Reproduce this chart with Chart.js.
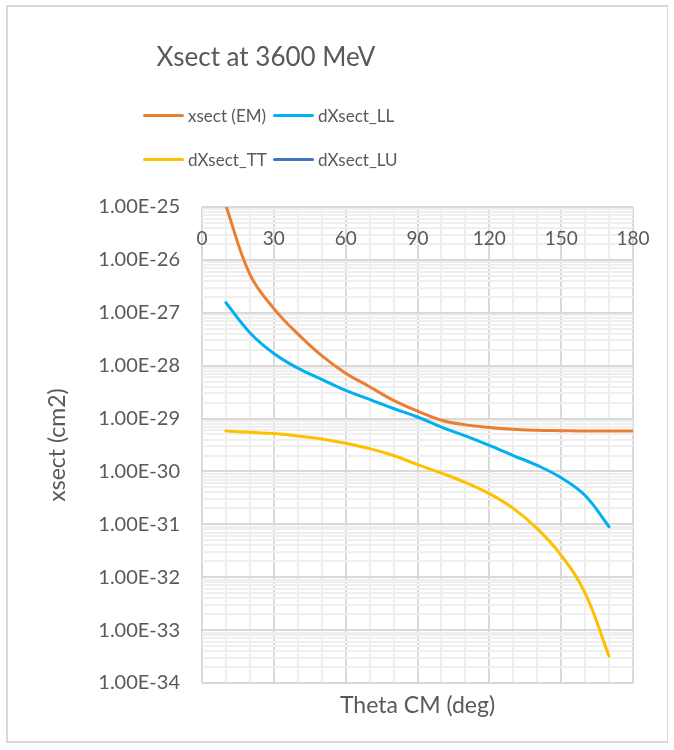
<!DOCTYPE html>
<html>
<head>
<meta charset="utf-8">
<script src="https://cdn.jsdelivr.net/npm/chart.js@4.4.1/dist/chart.umd.min.js"></script>
<style>
  body { margin: 0; background: #fff; font-family: Lato, "Open Sans", sans-serif; }
  #wrap { position: relative; width: 674px; height: 750px; }
  #frame { position: absolute; left: 6px; top: 5px; width: 662px; height: 738px; border: 2px solid #d9d9d9; border-right-width: 1px; box-sizing: border-box; }
  #title { position: absolute; left: 0; width: 532px; top: 40px; text-align: center; font-size: 26px; color: #595959; }
  #legend { position: absolute; left: 143px; top: 103px; display: grid; grid-template-columns: 130px 130px; row-gap: 20px; }
  .item { display: flex; align-items: center; height: 24px; font-size: 17px; color: #595959; white-space: nowrap; }
  .swatch { width: 41px; height: 3px; border-radius: 2px; margin-right: 4px; }
  #chartBox { position: absolute; left: 0; top: 0; width: 674px; height: 750px; }
</style>
</head>
<body>
<div id="wrap">
  <div id="frame"></div>
  <div id="chartBox"><canvas id="xsectChart"></canvas></div>
  <div id="title">Xsect at 3600 MeV</div>
  <div id="legend"></div>
</div>
<script>
// theta CM (deg)
const theta = [10, 20, 30, 40, 50, 60, 70, 80, 90, 100, 110, 120, 130, 140, 150, 160, 170, 180];

// cross sections (cm2)
const xsectEM = [1.05e-25, 5.3e-27, 1.2e-27, 4.0e-28, 1.55e-28, 7.2e-29, 4.0e-29, 2.2e-29, 1.38e-29, 9.3e-30,
  7.6e-30, 6.8e-30, 6.3e-30, 6.0e-30, 5.9e-30, 5.8e-30, 5.8e-30, 5.8e-30];
const dXsectLL = [1.55e-27, 4.2e-28, 1.7e-28, 9.0e-29, 5.5e-29, 3.4e-29, 2.3e-29, 1.55e-29, 1.07e-29, 6.9e-30,
  4.7e-30, 3.1e-30, 2.0e-30, 1.3e-30, 7.6e-31, 3.5e-31, 9.0e-32, null];
const dXsectTT = [5.8e-30, 5.5e-30, 5.2e-30, 4.7e-30, 4.1e-30, 3.4e-30, 2.7e-30, 2.0e-30, 1.35e-30, 9.3e-31,
  6.2e-31, 3.8e-31, 2.0e-31, 8.3e-32, 2.6e-32, 5.0e-33, 3.2e-34, null];
const dXsectLU = [null, null, null, null, null, null, null, null, null, null, null, null, null, null, null, null, null, null];

// axis ticks
const xTickLabels = [0, 30, 60, 90, 120, 150, 180];
const xGridLines = [0, 10, 20, 30, 40, 50, 60, 70, 80, 90, 100, 110, 120, 130, 140, 150, 160, 170, 180];
const yDecades = [-34, -33, -32, -31, -30, -29, -28, -27, -26, -25];

const textColor = "#595959";

function toPoints(vals) {
  return theta.map((t, i) => ({ x: t, y: vals[i] }));
}

function series(label, vals, color) {
  return {
    label: label,
    data: toPoints(vals),
    borderColor: color,
    backgroundColor: color,
    borderWidth: 3,
    pointRadius: 0,
    tension: 0.4,
    borderCapStyle: "round",
    spanGaps: false
  };
}

// x labels sit inside the plot, just under its top edge
const topTickLabels = {
  id: "topTickLabels",
  beforeDatasetsDraw(chart) {
    const xs = chart.scales.x;
    const ctx = chart.ctx;
    ctx.save();
    ctx.font = "19px Lato";
    ctx.fillStyle = textColor;
    ctx.textAlign = "center";
    ctx.textBaseline = "middle";
    xTickLabels.forEach(v => {
      ctx.fillText(String(v), xs.getPixelForValue(v), chart.chartArea.top + 32);
    });
    ctx.restore();
  }
};

const ctx = document.getElementById("xsectChart").getContext("2d");

const xsectChart = new Chart(ctx, {
  type: "line",
  data: {
    datasets: [
      series("xsect (EM)", xsectEM, "#ED7D31"),
      series("dXsect_LL", dXsectLL, "#00B0F0"),
      series("dXsect_TT", dXsectTT, "#FFC000"),
      series("dXsect_LU", dXsectLU, "#4472C4")
    ]
  },
  options: {
    responsive: true,
    maintainAspectRatio: false,
    animation: false,
    layout: { padding: { left: 6, right: 41, top: 207, bottom: 8 } },
    plugins: {
      legend: { display: false },
      tooltip: { enabled: false }
    },
    scales: {
      x: {
        type: "linear",
        min: 0,
        max: 180,
        afterBuildTicks: s => {
          s.ticks = xGridLines.map(v => ({ value: v, major: v % 30 === 0 }));
        },
        afterFit: s => { s.height = 59; },
        ticks: { display: false, autoSkip: false },
        grid: {
          drawTicks: false,
          color: c => (c.tick && c.tick.major ? "#d9d9d9" : "#efefef"),
          lineWidth: 2
        },
        border: { display: false },
        title: {
          display: true,
          text: "Theta CM (deg)",
          color: textColor,
          font: { family: "Lato", size: 23 },
          padding: { top: 0, bottom: 23 }
        }
      },
      y: {
        type: "logarithmic",
        min: Number("1e-34"),
        max: Number("1e-25"),
        afterBuildTicks: s => {
          const t = [];
          yDecades.forEach(e => {
            const base = Number("1e" + e);
            for (let m = 1; m <= 9; m++) {
              if (e === -25 && m > 1) break;
              t.push({ value: m * base, major: m === 1 });
            }
          });
          s.ticks = t;
        },
        afterFit: s => { s.width = 196; },
        ticks: {
          autoSkip: false,
          padding: 22,
          color: textColor,
          font: { family: "Lato", size: 20 },
          callback: (value, index, ticks) =>
            ticks[index].major ? Number(value).toExponential(2).toUpperCase() : ""
        },
        grid: {
          drawTicks: false,
          color: c => (c.tick && c.tick.major ? "#d9d9d9" : "#efefef"),
          lineWidth: 2
        },
        border: { display: false },
        title: {
          display: true,
          text: "xsect (cm2)",
          color: textColor,
          font: { family: "Lato", size: 23 },
          padding: { top: 38, bottom: 0 }
        }
      }
    }
  },
  plugins: [topTickLabels]
});

// legend in two columns, built from the datasets
const legendEl = document.getElementById("legend");
xsectChart.data.datasets.forEach(ds => {
  const item = document.createElement("div");
  item.className = "item";
  const sw = document.createElement("span");
  sw.className = "swatch";
  sw.style.background = ds.borderColor;
  const txt = document.createElement("span");
  txt.innerText = ds.label;
  item.appendChild(sw);
  item.appendChild(txt);
  legendEl.appendChild(item);
});
</script>
</body>
</html>
